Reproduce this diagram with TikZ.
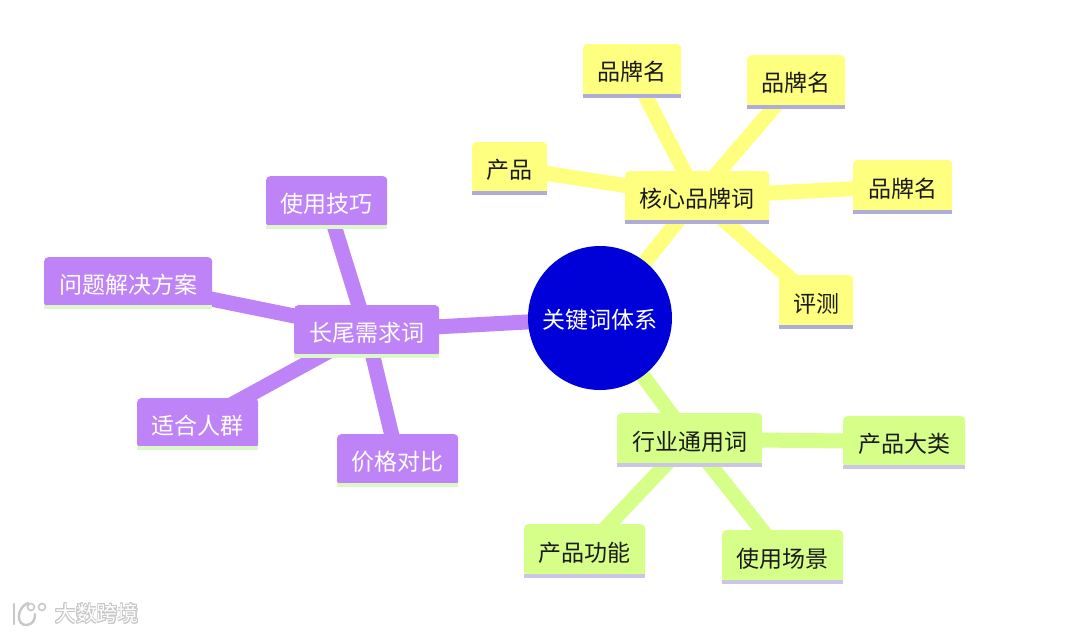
\documentclass[tikz,border=0pt]{standalone}
\usepackage{fontspec}
\setmainfont{Noto Sans CJK SC}
\usepackage[copies]{contour}
\contourlength{0.9pt}
\contournumber{16}
\usetikzlibrary{backgrounds}
\definecolor{ykb}{HTML}{FFFF7F}
\definecolor{gkb}{HTML}{D6FF8A}
\definecolor{pkb}{HTML}{BE84F7}
\definecolor{ys}{HTML}{B0ACD8}
\definecolor{gs}{HTML}{CBC6E6}
\definecolor{ps}{HTML}{DDF7C8}
\definecolor{core}{HTML}{0000D8}
\definecolor{ink}{HTML}{1A1A1A}
\tikzset{
  box/.style={rectangle,rounded corners=4pt,inner sep=0pt,anchor=north west,text height=21.6pt,text depth=0pt,font=\fontsize{23}{23}\selectfont},
  ybox/.style={box,fill=ykb,text=ink},
  gbox/.style={box,fill=gkb,text=ink},
  pbox/.style={box,fill=pkb,text=white},
  ylink/.style={draw=ykb,line width=15pt},
  glink/.style={draw=gkb,line width=15pt},
  plink/.style={draw=pkb,line width=15pt},
  ystrip/.style={draw=ys,line width=4pt,yshift=-1.5pt},
  gstrip/.style={draw=gs,line width=4pt,yshift=-1.5pt},
  pstrip/.style={draw=ps,line width=4pt,yshift=-1.5pt},
  mark text/.style={text=white,font=\fontsize{21}{21}\selectfont},
  logo/.style={draw=black!22,line width=2.4pt,line cap=round}
}
\newcommand{\bx}[7]{%
  \node[#2,minimum width=#6pt-#4pt,minimum height=#7pt-#5pt] (#1) at (#4,#5) {\bxtext};
  \draw[#3] (#1.south west) -- (#1.south east);
}
\begin{document}
\begin{tikzpicture}[x=1pt,y=-1pt]
\useasboundingbox (0,0) rectangle (1080,634);
\def\bxtext{品牌名}\bx{a}{ybox}{ystrip}{583}{44}{681}{96}
\def\bxtext{品牌名}\bx{b}{ybox}{ystrip}{747}{55}{845}{107}
\def\bxtext{产品}\bx{c}{ybox}{ystrip}{472}{142}{547}{193}
\def\bxtext{核心品牌词}\bx{d}{ybox}{ystrip}{625}{171}{769}{222}
\def\bxtext{品牌名}\bx{e}{ybox}{ystrip}{853}{160}{952}{212}
\def\bxtext{评测}\bx{f}{ybox}{ystrip}{779}{275}{853}{327}
\def\bxtext{长尾需求词}\bx{g}{pbox}{pstrip}{294}{305}{439}{356}
\def\bxtext{使用技巧}\bx{h}{pbox}{pstrip}{266}{176}{387}{227}
\def\bxtext{问题解决方案}\bx{i}{pbox}{pstrip}{44}{257}{212}{307}
\def\bxtext{适合人群}\bx{j}{pbox}{pstrip}{137}{398}{258}{448}
\def\bxtext{价格对比}\bx{k}{pbox}{pstrip}{337}{434}{458}{485}
\def\bxtext{行业通用词}\bx{l}{gbox}{gstrip}{617}{413}{762}{465}
\def\bxtext{产品大类}\bx{m}{gbox}{gstrip}{843}{416}{965}{467}
\def\bxtext{产品功能}\bx{n}{gbox}{gstrip}{524}{524}{645}{576}
\def\bxtext{使用场景}\bx{o}{gbox}{gstrip}{722}{530}{843}{582}
\node[circle,fill=core,text=white,minimum size=144pt,inner sep=0pt,text height=21.6pt,text depth=0pt,font=\fontsize{23}{23}\selectfont] (z) at (600,318) {关键词体系};
\begin{scope}[on background layer]
  \draw[ylink] (z.center) -- (d.center);
  \draw[ylink] (d.center) -- (a.center);
  \draw[ylink] (d.center) -- (b.center);
  \draw[ylink] (d.center) -- (c.center);
  \draw[ylink] (d.center) -- (e.center);
  \draw[ylink] (d.center) -- (f.center);
  \draw[plink] (z.center) -- (g.center);
  \draw[plink] (g.center) -- (h.center);
  \draw[plink] (g.center) -- (i.center);
  \draw[plink] (g.center) -- (j.center);
  \draw[plink] (g.center) -- (k.center);
  \draw[glink] (z.center) -- (l.center);
  \draw[glink] (l.center) -- (m.center);
  \draw[glink] (l.center) -- (n.center);
  \draw[glink] (l.center) -- (o.center);
\end{scope}
\node[mark text] (wm) at (97,614) {\contour{black!22}{大数跨境}};
\draw[logo] (14,604) -- (14,624);
\draw[logo] (28,603) .. controls (16,608) and (16,626) .. (27,625) .. controls (33,624) and (35,620) .. (35,614);
\draw[logo,line width=1.6pt] (31,607) circle (3.5pt) (42,607) circle (3.5pt);
\end{tikzpicture}
\end{document}
